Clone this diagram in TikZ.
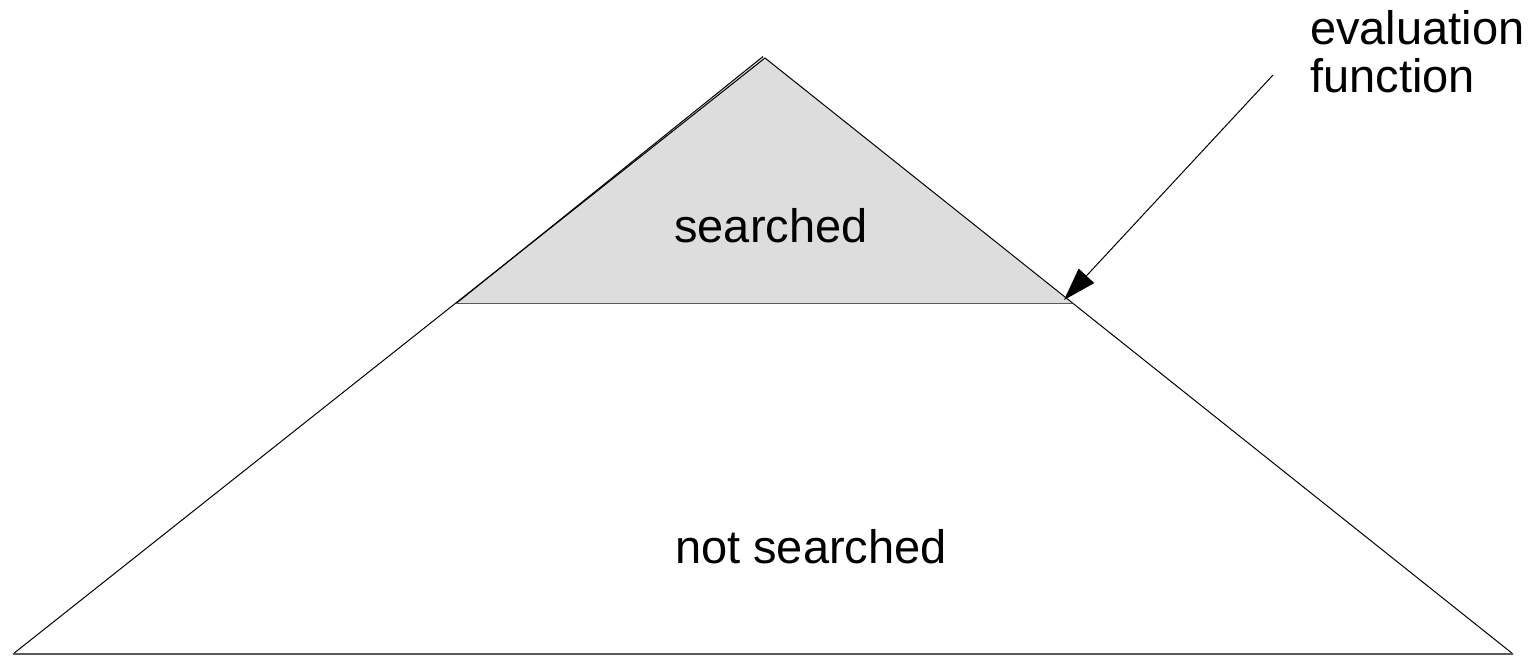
\documentclass[tikz,border=0pt]{standalone}
\usepackage{fontspec}
\setmainfont{Liberation Sans}
\usetikzlibrary{arrows.meta}
\definecolor{searchfill}{HTML}{DDDDDD}
\definecolor{edgegray}{HTML}{5A5A5A}
\begin{document}
\begin{tikzpicture}[x=1pt,y=-1pt,
  edge/.style={draw=black,line width=1pt},
  flatedge/.style={draw=edgegray,line width=1.6pt},
  label/.style={font=\fontsize{47}{54}\selectfont,inner sep=0pt,anchor=base},
  pointer/.style={draw=black,line width=1pt,-{Triangle[length=33pt,width=21pt]}}]
\useasboundingbox (0,0) rectangle (1533,656);
% big tree
\coordinate (bigtop) at (765,58);
\coordinate (bigleft) at (13,654);
\coordinate (bigright) at (1513,654);
% searched part
\coordinate (smalltop) at (763,56.5);
\coordinate (smallleft) at (456,303.5);
\coordinate (smallright) at (1072,303.5);
\fill[searchfill] (smalltop) -- (smallleft) -- (smallright) -- cycle;
\draw[edge] (bigleft) -- (bigtop) -- (bigright);
\draw[flatedge] (bigleft) -- (bigright);
\draw[edge] (smallleft) -- (smalltop);
\draw[flatedge] (smallleft) -- (smallright);
\node[label] (searched) at (771,242) {searched};
\node[label] (notsearched) at (811,563) {not searched};
\node[label,anchor=base west] (evalA) at (1310,44) {evaluation};
\node[label,anchor=base west] (evalB) at (1310,92) {function};
\coordinate (evalstart) at (1273,75);
\coordinate (arrowtip) at (1064,300);
\draw[pointer] (evalstart) -- (arrowtip);
\end{tikzpicture}
\end{document}
